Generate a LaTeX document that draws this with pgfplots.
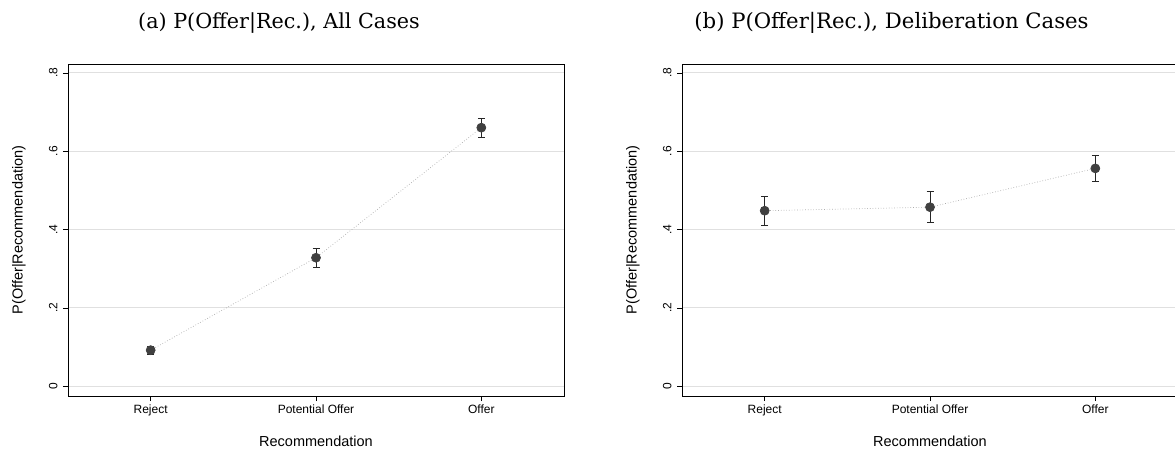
\documentclass[border=0pt]{standalone}
\usepackage{fontspec}
\setsansfont{Liberation Sans}
\newfontfamily\titlefont{DejaVu Serif}
\usepackage{pgfplots}
\pgfplotsset{compat=1.18}
\definecolor{markc}{HTML}{404040}
\definecolor{gridc}{HTML}{E0E0E0}
\pgfplotsset{
  stata/.style={
    scale only axis, width=496pt, height=332pt, clip=false,
    xmin=0.5, xmax=3.5, ymin=-0.025, ymax=0.8225,
    xtick={1,2,3}, xticklabels={Reject,Potential Offer,Offer},
    ytick={0,0.2,0.4,0.6,0.8}, yticklabels={0,.2,.4,.6,.8},
    tick align=outside, major tick length=5pt,
    xtick pos=bottom, ytick pos=left,
    tick style={black, line width=0.6pt},
    axis line style={black, line width=0.9pt},
    ymajorgrids, major grid style={gridc, line width=1pt},
    ticklabel style={font=\sffamily\fontsize{12}{14}\selectfont},
    yticklabel style={rotate=90, anchor=south},
    yticklabel shift=2pt,
    xlabel={Recommendation}, ylabel={P(Offer|Recommendation)},
    label style={font=\sffamily\fontsize{14.5}{16}\selectfont},
    xlabel style={at={(axis description cs:0.5,0)}, anchor=base, yshift=-50pt},
    ylabel style={at={(axis description cs:-0.0988,0.5)}, anchor=center},
  },
  ebar/.style={dotted, color=gray!65, line width=0.7pt,
    mark=*, mark size=4.5pt, mark options={solid, fill=markc, draw=markc},
    error bars/.cd, y dir=both, y explicit,
    error bar style={solid, color=black!85, line width=0.8pt},
    error mark options={rotate=90, mark size=3.5pt, color=black!85, line width=0.8pt, solid}},
}
\begin{document}
\begin{tikzpicture}
\path[use as bounding box] (0pt,0pt) rectangle (1175pt,453pt);
\begin{axis}[stata, at={(68pt,57pt)}, anchor=south west]
\addplot[ebar] coordinates {
  (1,0.092) +- (0,0.010)
  (2,0.328) +- (0,0.024)
  (3,0.660) +- (0,0.024)
};
\node[anchor=base, inner sep=0pt, font=\titlefont\fontsize{20.7}{24}\selectfont]
  at ([yshift=35pt]axis description cs:0.4254,1) {(a) P(Offer|Rec.), All Cases};
\end{axis}
\begin{axis}[stata, at={(682pt,57pt)}, anchor=south west]
\addplot[ebar] coordinates {
  (1,0.448) +- (0,0.037)
  (2,0.457) +- (0,0.040)
  (3,0.556) +- (0,0.034)
};
\node[anchor=base, inner sep=0pt, font=\titlefont\fontsize{21.2}{25}\selectfont]
  at ([yshift=35pt]axis description cs:0.4224,1) {(b) P(Offer|Rec.), Deliberation Cases};
\end{axis}
\end{tikzpicture}
\end{document}
